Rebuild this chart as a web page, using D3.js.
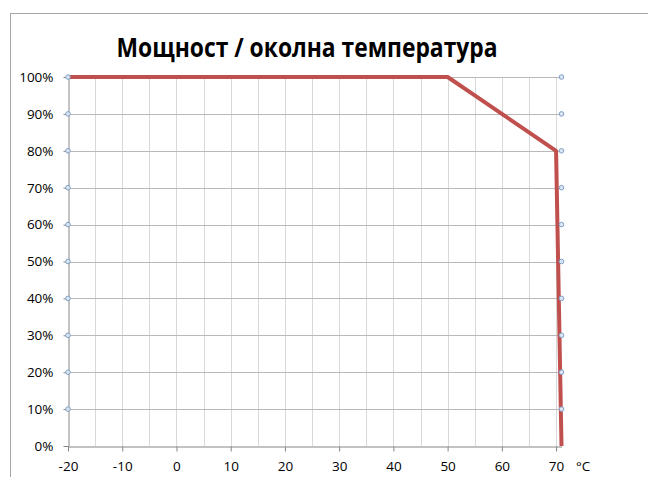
<!DOCTYPE html>
<html>
<head>
<meta charset="utf-8">
<script src="https://cdn.jsdelivr.net/npm/d3@7"></script>
<style>
  body { margin: 0; background: #fff; }
  text { font-family: "Open Sans", sans-serif; fill: #000; }
</style>
</head>
<body>
<div id="chart"></div>
<script>
// derating curve: power vs ambient temperature
const temps = [-20, 50, 55, 60, 65, 70, 71];
const power = [100, 100, 95, 90, 85, 80, 0];

// helper marker series at both ends of the plot
const markerLevels = [10, 20, 30, 40, 50, 60, 70, 80, 90, 100];
const markerTemps = [-20, 71];

const xTicks = [-20, -10, 0, 10, 20, 30, 40, 50, 60, 70];
const xGrid = [-15, -10, -5, 0, 5, 10, 15, 20, 25, 30, 35, 40, 45, 50, 55, 60, 65, 70];
const yTicks = [0, 10, 20, 30, 40, 50, 60, 70, 80, 90, 100];

const title = "Мощност / околна температура";
const unit = "°C";

const width = 648, height = 477;

const svg = d3.select("#chart").append("svg")
    .attr("width", width)
    .attr("height", height);

// chart frame (runs off the right and bottom)
svg.append("rect")
    .attr("x", 10.5).attr("y", 13.5)
    .attr("width", 700).attr("height", 500)
    .attr("fill", "none")
    .attr("stroke", "#a6a6a6");

const x = d3.scaleLinear().domain([-20, 71]).range([68, 561.5]);
const y = d3.scaleLinear().domain([0, 100]).range([446, 77]);

// vertical grid
svg.append("g").selectAll("line")
  .data(xGrid)
  .enter().append("line")
    .attr("x1", d => Math.round(x(d)) + 0.5).attr("x2", d => Math.round(x(d)) + 0.5)
    .attr("y1", y(100)).attr("y2", y(0))
    .attr("stroke", "#d9d9d9");

// horizontal grid
svg.append("g").selectAll("line")
  .data(yTicks.filter(d => d > 0))
  .enter().append("line")
    .attr("x1", x(-20)).attr("x2", x(71))
    .attr("y1", d => Math.round(y(d)) + 0.5).attr("y2", d => Math.round(y(d)) + 0.5)
    .attr("stroke", "#b8b8b8");

// axes
const xAxis = svg.append("g")
    .attr("transform", "translate(0," + (Math.round(y(0)) + 0.5) + ")")
    .call(d3.axisBottom(x).tickValues(xTicks).tickFormat(d => String(d))
      .tickSize(5).tickSizeOuter(0).tickPadding(10));

const yAxis = svg.append("g")
    .attr("transform", "translate(" + (Math.round(x(-20)) + 0.5) + ",0)")
    .call(d3.axisLeft(y).tickValues(yTicks).tickFormat(d => d + "%")
      .tickSize(5).tickSizeOuter(0).tickPadding(10));

[xAxis, yAxis].forEach(g => {
  g.attr("font-size", null).attr("font-family", null);
  g.select(".domain").attr("stroke", "#868686");
  g.selectAll(".tick line").attr("stroke", "#868686");
  g.selectAll(".tick text")
    .style("font-family", "'Open Sans', sans-serif")
    .style("font-size", "13.5px")
    .attr("fill", "#000");
});

svg.append("text")
    .attr("x", 576).attr("y", 471)
    .style("font-size", "13.5px")
    .text(unit);

// curve
const line = d3.line()
    .x((d, i) => x(temps[i]))
    .y(d => y(d));

svg.append("path")
    .datum(power)
    .attr("fill", "none")
    .attr("stroke", "#c0504d")
    .attr("stroke-width", 4)
    .attr("stroke-linejoin", "round")
    .attr("d", line);

// markers
markerTemps.forEach(t => {
  svg.append("g").selectAll("circle")
    .data(markerLevels)
    .enter().append("circle")
      .attr("cx", x(t))
      .attr("cy", d => y(d))
      .attr("r", 2.3)
      .attr("fill", "#dce6f2")
      .attr("stroke", "#7f9fc6")
      .attr("stroke-width", 1);
});

svg.append("text")
    .attr("x", 307).attr("y", 57)
    .attr("text-anchor", "middle")
    .attr("textLength", 381)
    .attr("lengthAdjust", "spacingAndGlyphs")
    .style("font-size", "26px")
    .style("font-weight", "bold")
    .text(title);
</script>
</body>
</html>
